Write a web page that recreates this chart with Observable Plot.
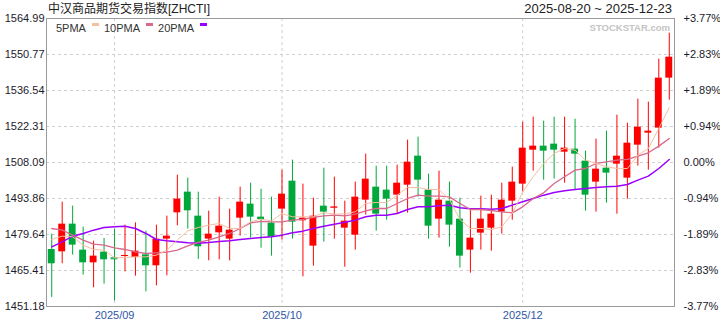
<!DOCTYPE html>
<html><head><meta charset="utf-8">
<script src="https://cdn.jsdelivr.net/npm/d3@7"></script>
<script src="https://cdn.jsdelivr.net/npm/@observablehq/plot@0.6"></script>
<style>
body{margin:0;background:#fff;}
#wrap{position:relative;width:720px;height:320px;font-family:"Liberation Sans",Arial,"Noto Sans CJK SC",sans-serif;}
.abs{position:absolute;line-height:1;white-space:nowrap;}
#title{left:48px;top:3px;font-size:12px;color:#222;}
#range{right:48px;top:2px;font-size:13px;color:#222;}
#legend{left:56px;top:23px;font-size:11px;color:#333;display:flex;align-items:flex-start;}
#legend .sw{display:inline-block;width:7px;height:3px;margin:0 5px 0 6px;}
#mark{right:50px;top:23px;font-size:9.5px;font-weight:bold;color:#c4c4c4;}
</style></head><body><div id="wrap"></div>
<script>
const titleText = "中汉商品期货交易指数[ZHCTI]";
const rangeText = "2025-08-20 ~ 2025-12-23";
const legendNames = ["5PMA", "10PMA", "20PMA"];
const legendColors = ["#f5bfa2", "#d8688c", "#9b00ff"];

const open = [1473.71,1472.79,1483.72,1473.45,1468.44,1472.66,1470.42,1471.08,1470.55,1471.60,1467.26,1477.80,1488.20,1496.37,1486.88,1477.80,1480.30,1477.80,1486.09,1491.63,1486.49,1484.12,1489.65,1500.71,1485.04,1475.03,1490.84,1490.18,1482.14,1479.38,1493.21,1498.34,1497.16,1495.18,1499.13,1510.59,1497.16,1485.70,1492.81,1485.70,1473.45,1480.17,1482.14,1488.47,1492.81,1499.53,1512.96,1514.55,1515.34,1512.17,1513.36,1508.62,1500.32,1505.85,1507.43,1501.90,1514.94,1519.68,1521.66,1541.42];
const close = [1468.05,1483.72,1475.43,1468.44,1471.08,1469.63,1470.03,1471.34,1473.05,1467.26,1477.80,1478.98,1493.60,1488.99,1474.77,1479.77,1482.93,1481.35,1492.42,1486.49,1485.57,1478.59,1495.58,1484.51,1486.09,1486.88,1488.47,1490.44,1484.91,1494.39,1501.51,1487.67,1493.60,1499.92,1508.22,1501.11,1482.93,1493.21,1483.33,1471.08,1478.19,1485.70,1487.67,1493.21,1500.32,1513.76,1514.55,1512.57,1512.96,1513.76,1511.38,1495.18,1505.46,1503.88,1510.59,1515.73,1522.05,1520.47,1541.42,1549.71];
const high = [1479.77,1492.42,1490.84,1482.54,1476.99,1478.06,1481.75,1483.33,1484.25,1480.96,1483.33,1486.88,1503.08,1501.90,1496.37,1488.86,1494.39,1489.65,1498.34,1499.92,1497.55,1494.39,1505.06,1509.01,1499.53,1493.99,1505.85,1502.30,1492.81,1500.32,1511.38,1506.64,1506.64,1507.04,1516.92,1518.10,1503.48,1504.67,1500.32,1493.99,1489.65,1494.79,1495.18,1499.92,1506.25,1524.03,1526.00,1524.42,1526.00,1526.00,1525.21,1512.57,1517.31,1520.47,1526.79,1523.63,1533.12,1531.93,1548.92,1559.20];
const low = [1454.75,1468.05,1471.47,1463.57,1458.56,1460.01,1453.43,1464.89,1463.18,1456.98,1459.35,1463.31,1483.06,1481.75,1469.76,1469.23,1469.63,1469.23,1478.98,1478.19,1474.24,1471.08,1477.40,1477.80,1462.91,1467.13,1476.61,1477.80,1466.73,1473.45,1487.28,1480.96,1485.30,1487.67,1488.07,1494.39,1477.80,1478.19,1474.63,1466.34,1464.36,1473.45,1473.05,1479.77,1485.30,1496.37,1504.67,1501.11,1501.51,1499.92,1497.16,1488.86,1488.47,1492.02,1487.67,1493.60,1506.64,1505.06,1513.76,1532.72];
const ma5 = [1477.66,1478.98,1478.72,1475.43,1473.71,1473.45,1470.42,1470.55,1470.81,1470.81,1471.47,1473.45,1477.40,1481.09,1482.41,1483.33,1483.99,1482.01,1482.01,1484.65,1485.70,1485.04,1487.94,1486.62,1486.62,1486.62,1488.33,1487.67,1487.81,1488.60,1491.89,1492.28,1492.28,1495.18,1498.21,1498.21,1497.42,1497.42,1493.47,1485.57,1482.01,1482.01,1481.62,1482.67,1487.94,1496.50,1502.43,1507.70,1511.65,1513.62,1512.96,1509.01,1507.70,1506.38,1505.72,1505.72,1510.99,1513.62,1521.53,1529.82];
const ma10 = [1482.01,1481.35,1479.38,1477.40,1475.82,1475.43,1474.37,1473.71,1472.79,1472.13,1472.40,1472.66,1473.45,1475.16,1476.48,1477.40,1478.72,1480.04,1482.01,1484.25,1484.78,1484.65,1484.65,1485.30,1485.57,1486.36,1487.02,1487.28,1487.02,1487.67,1488.99,1489.91,1489.91,1491.89,1493.87,1495.18,1494.79,1494.79,1494.52,1491.89,1489.52,1489.52,1489.12,1488.60,1488.20,1490.57,1493.87,1496.10,1499.79,1502.43,1505.06,1505.72,1507.70,1508.35,1509.01,1509.28,1510.59,1511.91,1514.55,1517.57];
const ma20 = [1474.77,1476.74,1478.98,1480.04,1481.35,1482.41,1482.67,1482.93,1482.01,1480.04,1477.66,1477.14,1476.74,1476.35,1476.22,1476.48,1476.87,1477.14,1477.66,1478.06,1478.45,1478.72,1479.38,1480.30,1480.96,1482.01,1482.93,1483.72,1484.51,1485.30,1486.62,1487.28,1487.28,1487.94,1489.52,1490.57,1490.57,1490.97,1491.23,1490.18,1489.78,1489.78,1489.65,1489.91,1491.23,1492.55,1493.87,1495.18,1496.24,1496.89,1497.42,1497.82,1498.21,1498.48,1498.74,1499.40,1501.11,1502.69,1505.72,1509.28];

const yTicks = [1451.18,1465.41,1479.64,1493.86,1508.09,1522.31,1536.54,1550.77,1564.99];
const pctLabels = ["-3.77%","-2.83%","-1.89%","-0.94%","0.00%","+0.94%","+1.89%","+2.83%","+3.77%"];
const monthIdx = [6, 22, 45];
const monthLabels = ["2025/09", "2025/10", "2025/12"];

const UP = "#ff0000", DOWN = "#00a83c";
const data = open.map((o, i) => ({
  i, open: o, close: close[i], high: high[i], low: low[i],
  ma5: ma5[i], ma10: ma10[i], ma20: ma20[i]
}));
const col = d => d.close >= d.open ? UP : DOWN;
const grid = {stroke: "#cfcfcf", strokeOpacity: 1, strokeDasharray: "3,3"};

const chart = Plot.plot({
  width: 720, height: 320,
  marginLeft: 46, marginRight: 46, marginTop: 18, marginBottom: 14,
  x: {domain: [-0.5, 59.5], axis: null},
  y: {domain: [yTicks[0], yTicks[yTicks.length - 1]], axis: null},
  style: {fontFamily: '"Liberation Sans", Arial, sans-serif', fontSize: "11px", background: "#fff", overflow: "visible"},
  marks: [
    Plot.gridY(yTicks, grid),
    Plot.gridX(monthIdx, grid),
    Plot.ruleX(data, {x: "i", y1: "low", y2: "high", stroke: col, strokeWidth: 1}),
    Plot.rect(data, {x1: d => d.i - 0.33, x2: d => d.i + 0.33, y1: "open", y2: "close", fill: col}),
    Plot.ruleY(data.filter(d => Math.abs(d.close - d.open) < 0.6), {y: "close", x1: d => d.i - 0.33, x2: d => d.i + 0.33, stroke: col, strokeWidth: 1}),
    Plot.line(data, {x: "i", y: "ma20", stroke: legendColors[2], strokeWidth: 1.5}),
    Plot.line(data, {x: "i", y: "ma10", stroke: legendColors[1], strokeWidth: 1.3}),
    Plot.line(data, {x: "i", y: "ma5", stroke: legendColors[0], strokeWidth: 1}),
    Plot.frame({stroke: "#9a9a9a"}),
    Plot.axisY(yTicks, {anchor: "left", tickSize: 0, tickPadding: 2, label: null, fill: "#1a1a2a", tickFormat: d => d.toFixed(2)}),
    Plot.axisY(yTicks, {anchor: "right", tickSize: 0, tickPadding: 9, label: null, fill: "#1a1a2a", tickFormat: d => pctLabels[yTicks.indexOf(d)]}),
    Plot.axisX(monthIdx, {anchor: "bottom", tickSize: 0, tickPadding: 5, label: null, fill: "#3056a8", tickFormat: d => monthLabels[monthIdx.indexOf(d)]})
  ]
});

const wrap = document.getElementById("wrap");
wrap.appendChild(chart);
function addDiv(id, html) {
  const el = document.createElement("div");
  el.id = id; el.className = "abs"; el.innerHTML = html;
  wrap.appendChild(el);
  return el;
}
addDiv("title", titleText);
addDiv("range", rangeText);
addDiv("legend", legendNames.map((n, k) => `<span>${n}</span><span class="sw" style="background:${legendColors[k]}"></span>`).join(""));
addDiv("mark", "STOCKSTAR.com");
</script></body></html>
